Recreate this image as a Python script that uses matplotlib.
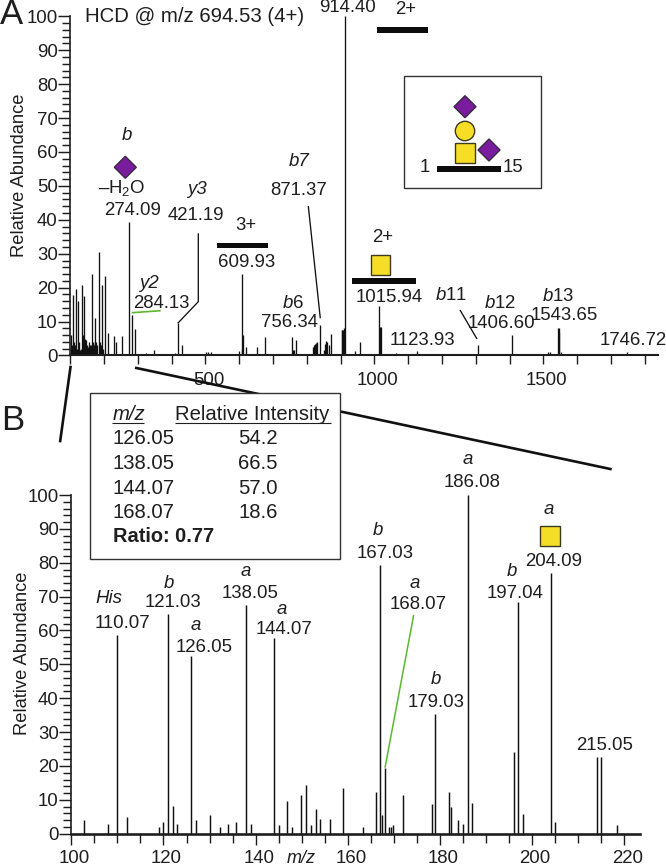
import matplotlib
matplotlib.use("Agg")
import matplotlib.pyplot as plt
from matplotlib.patches import Rectangle, Polygon, Circle
from matplotlib.transforms import ScaledTranslation
from matplotlib.ticker import MultipleLocator, NullFormatter

plt.rcParams['font.family'] = ['Liberation Sans', 'DejaVu Sans']
plt.rcParams['mathtext.fontset'] = 'custom'
plt.rcParams['mathtext.rm'] = 'Liberation Sans'
plt.rcParams['mathtext.it'] = 'Liberation Sans:italic'
plt.rcParams['mathtext.default'] = 'regular'

# Panel A spectrum
mz_a = [102, 104, 107, 110, 113, 118, 120, 122, 125, 128, 131, 135.6, 138, 140.5, 143, 146, 149, 151, 154,
        157, 160, 164, 166, 168, 170, 172, 174, 177, 180, 184, 187, 190, 193, 197, 202, 211, 229, 234, 253, 273,
        282.5, 291, 324, 347, 375, 410, 418, 431, 454, 502, 507, 517, 538, 600, 607, 609, 611, 619, 651, 675,
        703, 755, 758, 762, 768, 797, 818, 821, 824, 827, 830, 838, 850, 853, 856, 860, 864, 871,
        903, 905, 907, 910, 914, 942, 956, 1013, 1016, 1018, 1063, 1125, 1307, 1406, 1514, 1518,
        1543, 1545, 1547, 1551, 1748]
int_a = [6, 3, 17.8, 4, 3, 19.7, 2, 16, 4, 1.5, 2, 20.7, 6, 17.5, 5, 4.5, 3, 2.5, 4,
         3, 3, 24, 4, 3.5, 3, 4, 11, 4, 3, 30.5, 4, 3, 20.7, 2, 23.5, 6.7, 5.8, 4, 5.8, 39.5,
         11.9, 7.7, 0.6, 1.5, 0.5, 0.6, 9.5, 3, 0.5, 1, 1, 1.1, 0.5, 1.2, 2, 24, 6, 2.5, 2.5, 5.5,
         0.5, 5.5, 1.5, 1.5, 4.5, 0.5, 2.5, 3, 3.5, 3.8, 4, 9, 1.5, 3.5, 4.2, 4, 3, 6.3,
         7.5, 7.5, 7.5, 8, 100, 1.2, 4, 14.6, 8.5, 8.5, 0.7, 1.2, 3, 6, 1, 1,
         8, 8, 7, 1, 1]

# Panel B spectrum
mz_b = [102.8, 108, 110, 112, 119, 120, 121, 122, 123, 126, 127, 130, 132.3, 134.1, 135.8, 138, 139, 144, 145,
        146.8, 147.8, 149.9, 151, 152, 153, 154, 156.2, 158.9, 163.3, 166.2, 167, 167.5, 168.1, 168.9, 169.3,
        169.9, 172, 178.2, 178.9, 182, 182.3, 184, 185, 186.1, 187, 196, 197, 198, 204, 205, 214, 215, 218.5]
int_b = [4, 3, 58.7, 5, 2, 3.4, 64.8, 8.2, 3, 52.5, 4, 5.5, 2, 3, 3.5, 67.5, 3, 57.7, 2.5,
         9.6, 2, 11.4, 14.3, 2.5, 7.2, 4.4, 4.4, 13.4, 2, 12.4, 79.3, 5.5, 19.3, 2, 2,
         2.5, 11.4, 8.7, 35.2, 12.4, 8, 4, 3, 100, 9, 24, 68.5, 5.8, 76.9, 3.5, 22.6, 22.6, 2.5]

# Axis ticks
yticks = list(range(0, 101, 10))
xticks_a = list(range(100, 1801, 100))
xlabels_a = {500: '500', 1000: '1000', 1500: '1500'}
xticks_b_major = [100, 120, 140, 160, 180, 200, 220]
ylabel = 'Relative Abundance'

W, H = 666, 867
TC = '#1e1e1e'
GOLD = '#F6DE26'
PURPLE = '#7A1C9E'
GREEN = '#5CB82C'
EDGE = '#3d3a20'
fig = plt.figure(figsize=(W / 100, H / 100), dpi=100)


def axes_px(l, r, t, b):
    return fig.add_axes([l / W, 1 - b / H, (r - l) / W, (b - t) / H])


def style(ax, xspine):
    ax.set_ylim(0, 100)
    for s in ('top', 'right'):
        ax.spines[s].set_visible(False)
    ax.spines['left'].set_linewidth(1.2)
    ax.spines['bottom'].set_linewidth(xspine)
    ax.spines['left'].set_color(TC)
    ax.spines['bottom'].set_color(TC)
    ax.patch.set_alpha(0)
    ax.set_yticks(yticks)
    ax.yaxis.set_minor_locator(MultipleLocator(2))
    ax.tick_params(axis='y', which='major', length=8.6, width=1.05, labelsize=13.4, pad=0.5, colors=TC)
    ax.tick_params(axis='y', which='minor', length=5.8, width=1.05, colors=TC)


axA = axes_px(70.3, 658, 16.3, 355.5)
axA.set_xlim(100, 1838.8)
style(axA, 1.5)
axA.vlines(mz_a, 0, int_a, color='#111111', lw=0.95)
axA.set_xticks(xticks_a)
axA.set_xticklabels([xlabels_a.get(t, '') for t in xticks_a])
axA.tick_params(axis='x', length=6.5, width=1.0, labelsize=13.4, pad=5.5, colors=TC)
for lab in axA.get_xticklabels():
    lab.set_transform(lab.get_transform() + ScaledTranslation(3 / 100, 0, fig.dpi_scale_trans))

axB = axes_px(71.3, 640, 495, 833.7)
axB.set_xlim(100, 223.4)
style(axB, 1.9)
axB.vlines(mz_b, 0, int_b, color='#111111', lw=1.05)
axB.set_xticks(xticks_b_major)
axB.xaxis.set_minor_locator(MultipleLocator(5))
axB.xaxis.set_minor_formatter(NullFormatter())
axB.tick_params(axis='x', which='major', length=8, width=1.0, labelsize=13.4, pad=4, colors=TC)
axB.tick_params(axis='x', which='minor', length=6.5, width=1.0, colors=TC)
for lab in axB.get_xticklabels():
    lab.set_transform(lab.get_transform() + ScaledTranslation(3 / 100, 0, fig.dpi_scale_trans))

# Overlay in pixel coordinates for annotations
ov = fig.add_axes([0, 0, 1, 1], zorder=5)
ov.set_xlim(0, W)
ov.set_ylim(H, 0)
ov.axis('off')


def T(x, y, s, size=13.4, style='normal', ha='center', weight='normal'):
    return ov.text(x, y, s, fontsize=size, style=style, ha=ha, va='center', color=TC, weight=weight, zorder=6)


def L(xs, ys, color='#111111', lw=0.95, z=4):
    ov.plot(xs, ys, color=color, lw=lw, solid_capstyle='butt', solid_joinstyle='miter', zorder=z)


def bar(x0, x1, y):
    ov.add_patch(Rectangle((x0, y - 2.8), x1 - x0, 5.6, fc='#0c0c0c', ec='none', zorder=4))


def square(cx, cy, s=19.5):
    ov.add_patch(Rectangle((cx - s / 2, cy - s / 2), s, s, fc=GOLD, ec=EDGE, lw=1.0, zorder=4))


def diamond(cx, cy, r=11):
    ov.add_patch(Polygon([(cx - r, cy), (cx, cy - r), (cx + r, cy), (cx, cy + r)], closed=True,
                         fc=PURPLE, ec='#3a2a40', lw=1.0, zorder=4))


T(0, 15, 'A', size=25, ha='left')
T(1, 420, 'B', size=25, ha='left')
T(195, 17, 'HCD @ m/z 694.53 (4+)', size=14.7)
T(20, 175, ylabel, size=13.2).set_rotation(90)
T(22.5, 653, ylabel, size=13.2).set_rotation(90)

# Panel A labels
T(347, 8, '914.40')
T(405.7, 10, '2+')
bar(377, 428, 30)
T(126.7, 135, 'b', style='italic')
diamond(125.3, 167.3)
T(122, 188, '–H$_2$O')
T(132.7, 210.7, '274.09')
T(149, 283, 'y2', style='italic')
T(161, 304, '284.13')
L([131.7, 160.7], [312.7, 310.7], color=GREEN, lw=1.2)
T(197, 189, 'y3', style='italic')
T(195.7, 215, '421.19')
L([198.3, 198.3, 177.7], [233.3, 301.7, 323.3])
T(245.7, 226, '3+')
bar(217.3, 268.3, 245.3)
T(246.7, 262.7, '609.93')
T(299, 161.7, 'b7', style='italic')
T(299, 190.7, '871.37')
L([308.3, 320.3], [206, 318.3])
T(292.7, 303.3, r'$\mathit{b}$6')
T(289.3, 322.3, '756.34')
T(382.3, 238, '2+')
square(380.3, 265)
bar(351.7, 415.7, 281)
T(389, 297.3, '1015.94')
T(422.3, 340.7, '1123.93')
T(450.7, 296, r'$\mathit{b}$11')
L([460, 477], [310, 339])
T(500, 303.3, r'$\mathit{b}$12')
T(501.7, 324, '1406.60')
T(558.3, 296.7, r'$\mathit{b}$13')
T(564.3, 316, '1543.65')
T(632.7, 340.7, '1746.72')

# Glycan inset
ov.add_patch(Rectangle((404, 76), 136.7, 111.7, fc='white', ec='#333333', lw=1.0, zorder=3))
diamond(465, 106.7)
ov.add_patch(Circle((465, 131), 9.7, fc=GOLD, ec=EDGE, lw=1.0, zorder=4))
square(465, 153)
diamond(489, 150)
bar(436.7, 500.7, 169)
T(425, 168, '1')
T(513, 168, '15')

# Zoom lines, behind the table
L([70.7, 60], [365.7, 442.3], lw=1.9, z=2)
L([135, 611.7], [367.7, 469.3], lw=1.9, z=2)

# Table
ov.add_patch(Rectangle((90, 393.3), 250, 166, fc='white', ec='#333333', lw=1.0, zorder=3))
T(112.3, 414.3, 'm/z', size=14.6, style='italic', ha='left')
T(175, 414.3, 'Relative Intensity', size=14.6, ha='left')
L([112, 144], [422.7, 422.7], color=TC, lw=0.8)
L([175, 331], [422.7, 422.7], color=TC, lw=0.8)
T(112.3, 439, '126.05', size=14.6, ha='left')
T(257.7, 439, '54.2', size=14.6)
T(112.3, 463.3, '138.05', size=14.6, ha='left')
T(257.7, 463.3, '66.5', size=14.6)
T(112.3, 488.3, '144.07', size=14.6, ha='left')
T(257.7, 488.3, '57.0', size=14.6)
T(112.3, 512.7, '168.07', size=14.6, ha='left')
T(257.7, 512.7, '18.6', size=14.6)
T(113, 536, 'Ratio: 0.77', size=14.4, ha='left', weight='bold')

# Panel B labels
T(109.3, 598.3, 'His', style='italic')
T(122.3, 623.3, '110.07')
T(168.7, 584, 'b', style='italic')
T(173.3, 602.7, '121.03')
T(195.3, 625.7, 'a', style='italic')
T(204.3, 647.3, '126.05')
T(246, 571.7, 'a', style='italic')
T(250.3, 593.3, '138.05')
T(281.7, 610, 'a', style='italic')
T(283.7, 629.3, '144.07')
T(378.3, 530.7, 'b', style='italic')
T(385, 554, '167.03')
T(415, 584, 'a', style='italic')
T(418, 604.3, '168.07')
L([413.7, 385], [615, 767.7], color=GREEN, lw=1.1)
T(436, 679.3, 'b', style='italic')
T(436, 702.7, '179.03')
T(467.7, 459.3, 'a', style='italic')
T(472.3, 482.3, '186.08')
T(548.3, 510, 'a', style='italic')
square(550, 536)
T(554, 561.3, '204.09')
T(511.7, 571.3, 'b', style='italic')
T(515, 593.3, '197.04')
T(605, 745, '215.05')
T(301.7, 858.5, 'm/z', size=13, style='italic')

fig.savefig('out.png', dpi=100)
